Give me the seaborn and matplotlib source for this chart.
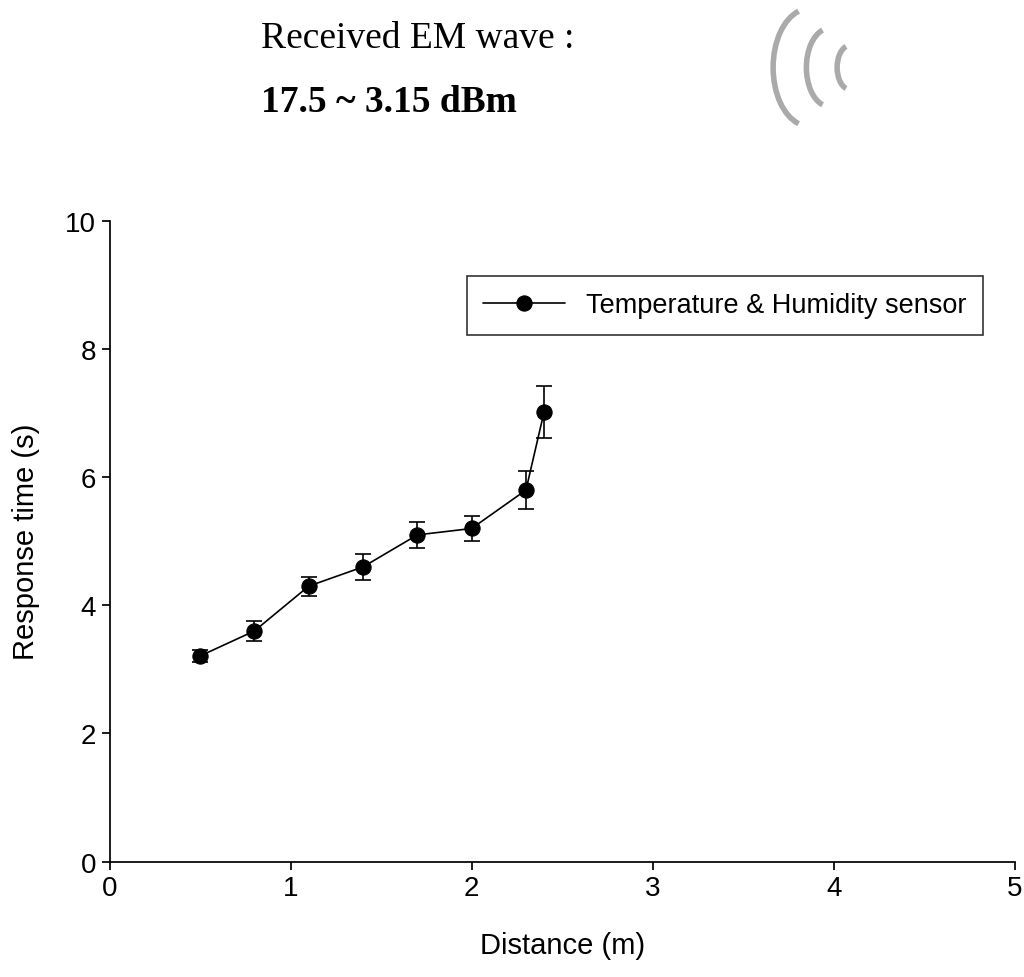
import matplotlib
matplotlib.use("Agg")
import matplotlib.pyplot as plt
import seaborn as sns
import pandas as pd
from matplotlib.patches import Arc

distance = [0.5, 0.8, 1.1, 1.4, 1.7, 2.0, 2.3, 2.4]
response = [3.21, 3.6, 4.3, 4.6, 5.1, 5.2, 5.8, 7.02]
err = [0.1, 0.15, 0.15, 0.2, 0.2, 0.2, 0.3, 0.4]
series_name = "Temperature & Humidity sensor"

sns.set_theme(style="ticks")
plt.rcParams['font.family'] = ['Liberation Sans', 'DejaVu Sans']
plt.rcParams['text.color'] = 'black'
plt.rcParams['axes.labelcolor'] = 'black'
plt.rcParams['xtick.color'] = 'black'
plt.rcParams['ytick.color'] = 'black'

fig = plt.figure(figsize=(10.24, 9.78), dpi=100)
ax = fig.add_axes([0.107, 0.118, 0.884, 0.655])
df = pd.DataFrame({"d": distance, "r": response})
ax.errorbar(distance, response, yerr=err, fmt="none", ecolor="black", elinewidth=1.2, capsize=6, capthick=1.2)
sns.lineplot(data=df, x="d", y="r", ax=ax, color="black", marker="o", markersize=11,
             linewidth=1.2, markeredgecolor="black", label=series_name)
ax.set_xlim(0, 5)
ax.set_ylim(0, 10)
ax.set_xticks(range(6))
ax.set_yticks(range(0, 11, 2))
ax.tick_params(labelsize=20, direction="out", length=6, color="black")
ax.set_xlabel("Distance (m)", fontsize=21, labelpad=22)
ax.set_ylabel("Response time (s)", fontsize=21, labelpad=18)
for s in ["top", "right"]:
    ax.spines[s].set_visible(False)
for s in ["left", "bottom"]:
    ax.spines[s].set_color("black")
leg = ax.legend(loc="upper right", bbox_to_anchor=(0.98, 0.935), fontsize=19.5, frameon=True,
                fancybox=False, edgecolor="black", handlelength=3, borderpad=0.6)
leg.get_frame().set_linewidth(1.2)

fig.text(0.255, 0.96, "Received EM wave :", fontsize=27, family="Liberation Serif", va="center")
fig.text(0.255, 0.895, "17.5 ~ 3.15 dBm", fontsize=27, family="Liberation Serif", weight="bold", va="center")

for cx, w, h in [(0.79, 0.07, 0.12), (0.81, 0.045, 0.08), (0.83, 0.025, 0.045)]:
    fig.patches.append(Arc((cx, 0.93), w, h, theta1=100, theta2=260, transform=fig.transFigure,
                           color="#aaaaaa", lw=4))

fig.savefig("out.png", dpi=100)
